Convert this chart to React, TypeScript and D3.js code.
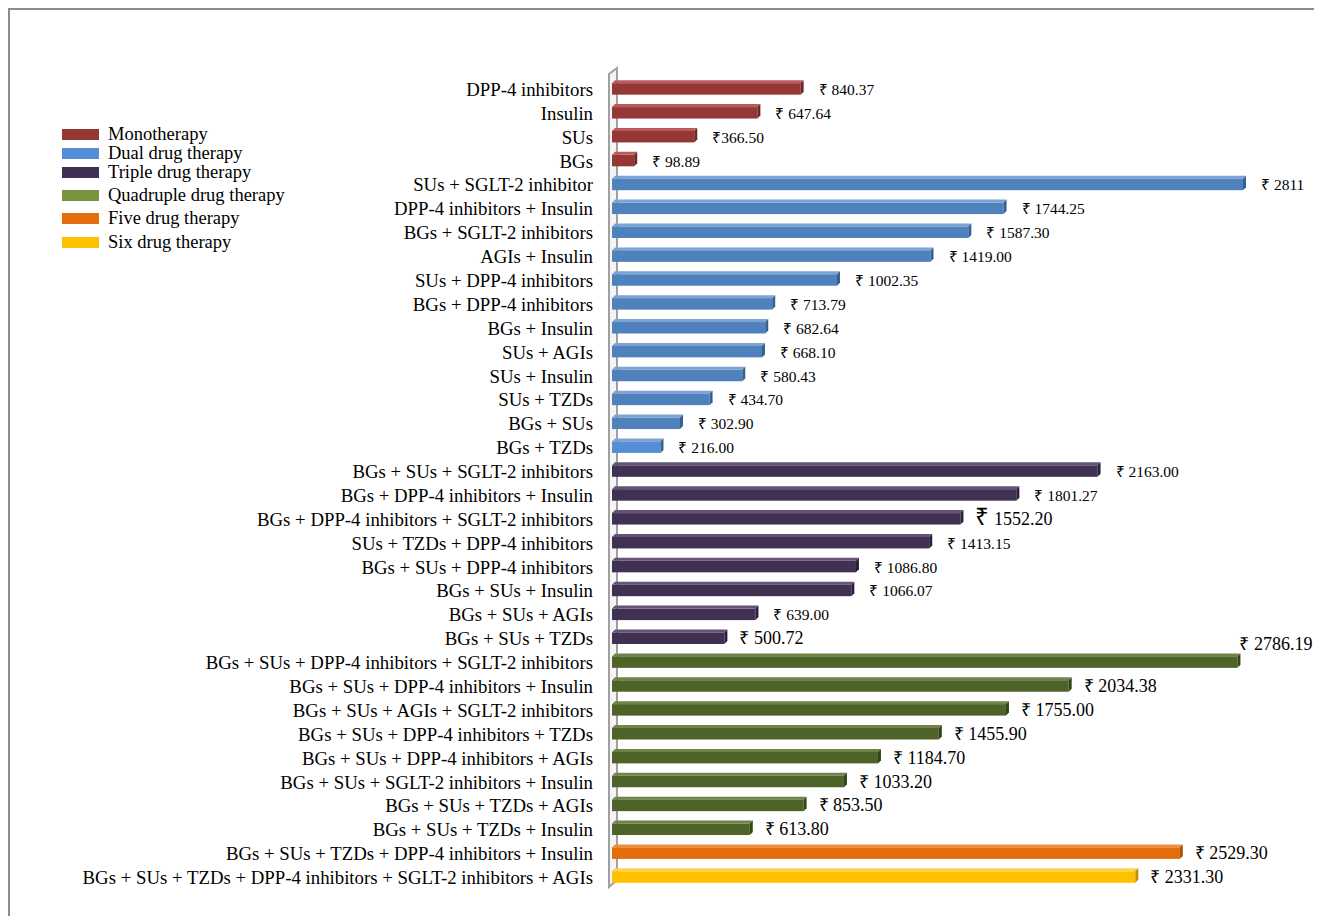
import React from "react";
import * as d3 from "d3";

const categories = [
  "DPP-4 inhibitors", "Insulin", "SUs", "BGs",
  "SUs + SGLT-2 inhibitor", "DPP-4 inhibitors + Insulin", "BGs + SGLT-2 inhibitors", "AGIs + Insulin",
  "SUs + DPP-4 inhibitors", "BGs + DPP-4 inhibitors", "BGs + Insulin", "SUs + AGIs",
  "SUs + Insulin", "SUs + TZDs", "BGs + SUs", "BGs + TZDs",
  "BGs + SUs + SGLT-2 inhibitors", "BGs + DPP-4 inhibitors + Insulin", "BGs + DPP-4 inhibitors + SGLT-2 inhibitors",
  "SUs + TZDs + DPP-4 inhibitors", "BGs + SUs + DPP-4 inhibitors", "BGs + SUs + Insulin", "BGs + SUs + AGIs",
  "BGs + SUs + TZDs",
  "BGs + SUs + DPP-4 inhibitors + SGLT-2 inhibitors", "BGs + SUs + DPP-4 inhibitors + Insulin",
  "BGs + SUs + AGIs + SGLT-2 inhibitors", "BGs + SUs + DPP-4 inhibitors + TZDs", "BGs + SUs + DPP-4 inhibitors + AGIs",
  "BGs + SUs + SGLT-2 inhibitors + Insulin", "BGs + SUs + TZDs + AGIs", "BGs + SUs + TZDs + Insulin",
  "BGs + SUs + TZDs + DPP-4 inhibitors + Insulin",
  "BGs + SUs + TZDs + DPP-4 inhibitors + SGLT-2 inhibitors + AGIs",
];

const values = [
  840.37, 647.64, 366.5, 98.89,
  2811, 1744.25, 1587.3, 1419.0, 1002.35, 713.79, 682.64, 668.1, 580.43, 434.7, 302.9, 216.0,
  2163.0, 1801.27, 1552.2, 1413.15, 1086.8, 1066.07, 639.0, 500.72,
  2786.19, 2034.38, 1755.0, 1455.9, 1184.7, 1033.2, 853.5, 613.8,
  2529.3,
  2331.3,
];

const valueLabels = [
  "₹ 840.37", "₹ 647.64", "₹366.50", "₹ 98.89",
  "₹ 2811", "₹ 1744.25", "₹ 1587.30", "₹ 1419.00", "₹ 1002.35", "₹ 713.79", "₹ 682.64", "₹ 668.10",
  "₹ 580.43", "₹ 434.70", "₹ 302.90", "₹ 216.00",
  "₹ 2163.00", "₹ 1801.27", "₹ 1552.20", "₹ 1413.15", "₹ 1086.80", "₹ 1066.07", "₹ 639.00", "₹ 500.72",
  "₹ 2786.19", "₹ 2034.38", "₹ 1755.00", "₹ 1455.90", "₹ 1184.70", "₹ 1033.20", "₹ 853.50", "₹ 613.80",
  "₹ 2529.30",
  "₹ 2331.30",
];

// group index per category
const groupOf = [
  0, 0, 0, 0,
  1, 1, 1, 1, 1, 1, 1, 1, 1, 1, 1, 1,
  2, 2, 2, 2, 2, 2, 2, 2,
  3, 3, 3, 3, 3, 3, 3, 3,
  4,
  5,
];

// which value labels are drawn in the larger font
const bigLabel = [
  0, 0, 0, 0,
  0, 0, 0, 0, 0, 0, 0, 0, 0, 0, 0, 0,
  0, 0, 1, 0, 0, 0, 0, 1,
  1, 1, 1, 1, 1, 1, 1, 1,
  1,
  1,
];

const groups = [
  "Monotherapy", "Dual drug therapy", "Triple drug therapy",
  "Quadruple drug therapy", "Five drug therapy", "Six drug therapy",
];
const barColors = ["#953735", "#4F81BD", "#403152", "#4F6228", "#E46C0A", "#FFC000"];
const sideColors = ["#6E2624", "#36608F", "#2A1F37", "#354318", "#A94E05", "#C09000"];
const topColors = ["#B65C5A", "#7DA3D3", "#645378", "#6E8449", "#F08C3A", "#FFD24D"];
const legendColors = ["#953735", "#558ED5", "#3F3151", "#77933C", "#E46C0A", "#FFC000"];

const FONT = "'Liberation Serif', 'Times New Roman', serif";

export default function App() {
  const off = 8; // body margin
  const x0 = 612;
  const x = d3.scaleLinear().domain([0, 2811]).range([x0, 1243]);
  const y = d3.scaleBand<number>().domain(d3.range(categories.length)).range([77, 889]).paddingInner(0.52).paddingOuter(0.26);
  const bh = y.bandwidth();
  const d = 3;
  const legendTops = [129, 148, 167, 190, 213, 237];

  return (
    <div style={{ margin: 0 }}>
      <svg width={1314} height={908} style={{ display: "block", fontFamily: FONT }}>
        <rect x={1} y={1} width={1311} height={940} fill="#fff" stroke="#8c8c8c" strokeWidth={2} />
        {/* axis wall */}
        <path d={`M${609 - off},${74 - off} L${609 - off},${887 - off} L${617 - off},${880 - off} L${617 - off},${68 - off} Z`}
          fill="#f4f4f4" stroke="#a0a0a0" strokeWidth={2} />
        {/* bars */}
        {categories.map((c, i) => {
          const g = groupOf[i];
          const yy = (y(i) as number) - off;
          const xe = x(values[i]) - off;
          const xs = x0 - off;
          const cy = yy + bh / 2;
          const big = bigLabel[i] === 1;
          let lx = xe + d + (big ? 12 : 15);
          let ly = cy + (big ? 6 : 6);
          if (i === 24) { lx = xe + 2; ly = yy - 6; }
          const fill = i === 15 ? "#558ED5" : barColors[g];
          return (
            <g key={c}>
              <polygon points={`${xs},${yy} ${xs + d},${yy - d} ${xe + d},${yy - d} ${xe},${yy}`} fill={topColors[g]} />
              <rect x={xs} y={yy} width={xe - xs} height={bh} fill={fill} />
              <polygon points={`${xe},${yy} ${xe + d},${yy - d} ${xe + d},${yy + bh - d} ${xe},${yy + bh}`} fill={sideColors[g]} />
              <text x={593 - off} y={cy + 7} textAnchor="end" fontSize={18.8} fill="#000">{c}</text>
              <text x={lx} y={ly} fontSize={big ? 18 : 15.5} fill="#000">
                {i === 18 ? (
                  <>
                    <tspan fontSize={24}>₹</tspan>
                    <tspan>{" " + valueLabels[i].slice(2)}</tspan>
                  </>
                ) : valueLabels[i]}
              </text>
            </g>
          );
        })}
        {/* legend */}
        {groups.map((gname, i) => {
          const top = legendTops[i] - off;
          return (
            <g key={gname}>
              <rect x={62 - off} y={top} width={37} height={11} fill={legendColors[i]} />
              <text x={108 - off} y={top + 11} fontSize={18.5} fill="#000">{gname}</text>
            </g>
          );
        })}
      </svg>
    </div>
  );
}
